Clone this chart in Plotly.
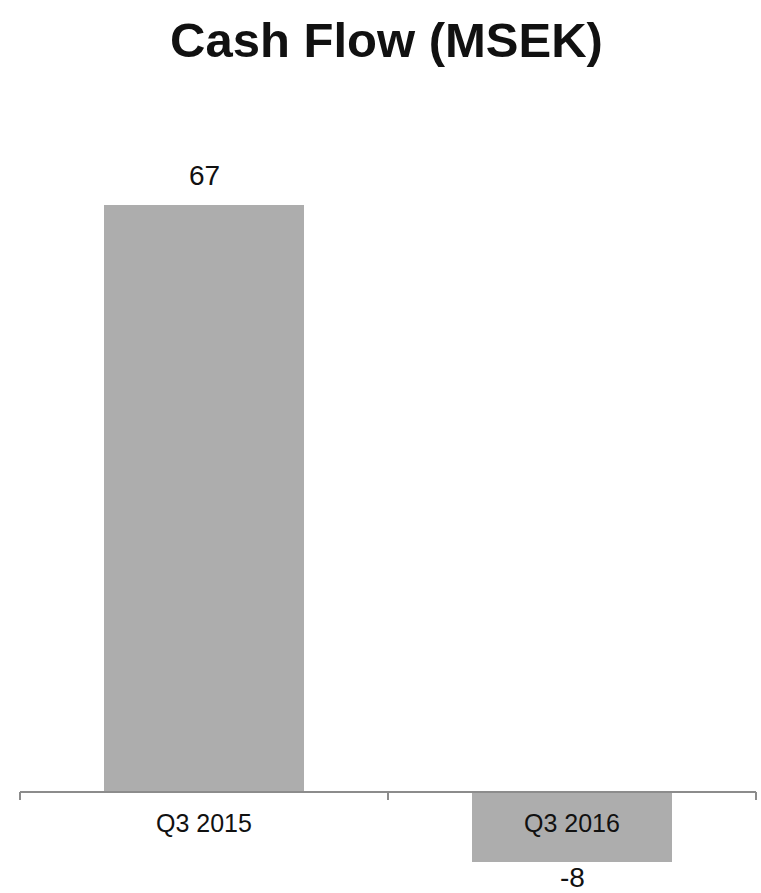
import plotly.graph_objects as go

# Quarterly cash flow, MSEK
categories = ["Q3 2015", "Q3 2016"]
values = [67, -8]

BAR_COLOR = "#ADADAD"
AXIS_COLOR = "#8C8C8C"
TEXT_COLOR = "#111111"
FONT = "Arial, Liberation Sans, sans-serif"

W, H = 761, 893
# pixel layout of the plotting area
axis_left_px, axis_right_px = 20, 756
zero_px, top_value_px = 792, 205
plot_top_px = 100

px_per_cat = (axis_right_px - axis_left_px) / len(categories)
x_lo = -0.5 - axis_left_px / px_per_cat
x_hi = len(categories) - 0.5 + (W - axis_right_px) / px_per_cat

px_per_unit = (zero_px - top_value_px) / max(values)
y_hi = (zero_px - plot_top_px) / px_per_unit
y_lo = -(H - zero_px) / px_per_unit

fig = go.Figure(
    go.Bar(
        x=list(range(len(categories))),
        y=values,
        width=200 / px_per_cat,
        marker=dict(color=BAR_COLOR, line=dict(width=0)),
        hoverinfo="skip",
    )
)

# horizontal category axis drawn at zero, with boundary ticks
shapes = [
    dict(type="line", xref="x", yref="y", x0=-0.5, x1=len(categories) - 0.5,
         y0=0, y1=0, line=dict(color=AXIS_COLOR, width=2), layer="above")
]
for b in range(len(categories) + 1):
    shapes.append(
        dict(type="line", xref="x", yref="y", ysizemode="pixel", yanchor=0,
             x0=b - 0.5, x1=b - 0.5, y0=0, y1=-8,
             line=dict(color=AXIS_COLOR, width=2), layer="above")
    )

annotations = []
for i, (cat, v) in enumerate(zip(categories, values)):
    # category label just under the axis line
    annotations.append(
        dict(x=i, y=0, xref="x", yref="y", text=cat, showarrow=False,
             yanchor="middle", yshift=-31,
             font=dict(family=FONT, size=25, color=TEXT_COLOR))
    )
    # value label beyond the bar end
    annotations.append(
        dict(x=i, y=v, xref="x", yref="y", text=str(v), showarrow=False,
             yanchor="middle", yshift=30 if v >= 0 else -15,
             font=dict(family=FONT, size=28, color=TEXT_COLOR))
    )

fig.update_layout(
    width=W,
    height=H,
    margin=dict(l=0, r=0, t=plot_top_px, b=0),
    paper_bgcolor="white",
    plot_bgcolor="white",
    showlegend=False,
    title=dict(
        text="<b>Cash Flow (MSEK)</b>",
        x=0.5 + 6 / W,
        xanchor="center",
        xref="paper",
        yref="container",
        y=1 - 40 / H,
        yanchor="middle",
        font=dict(family=FONT, size=49, color=TEXT_COLOR),
    ),
    xaxis=dict(range=[x_lo, x_hi], visible=False, fixedrange=True),
    yaxis=dict(range=[y_lo, y_hi], visible=False, fixedrange=True),
    shapes=shapes,
    annotations=annotations,
)

fig.write_html("out.html")
